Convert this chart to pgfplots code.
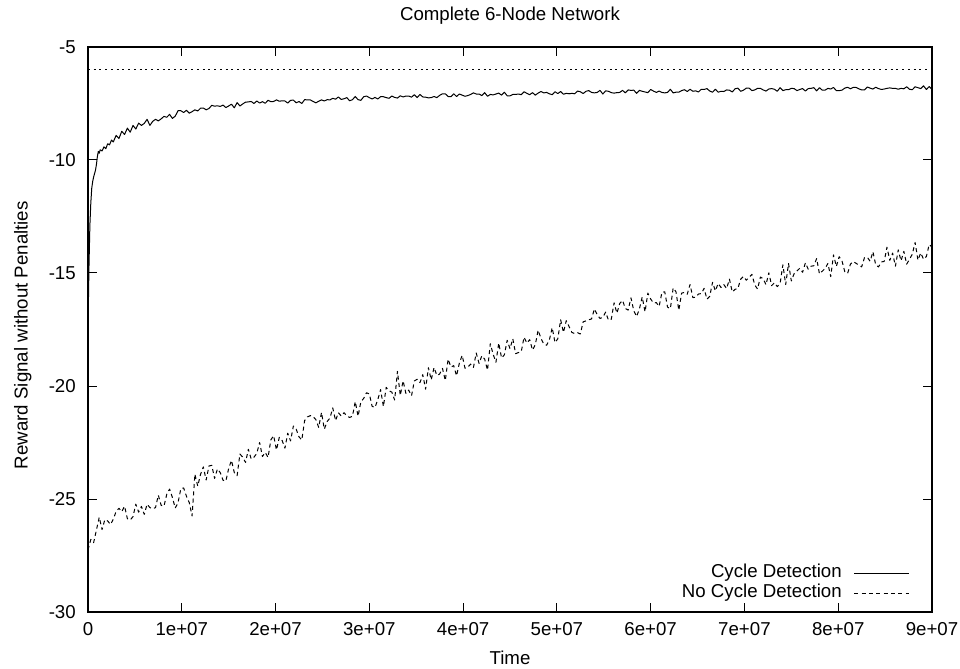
\documentclass[border=0pt]{standalone}
\usepackage{fontspec}
\setmainfont{Liberation Sans}
\usepackage{pgfplots}
\usepackage{pgfplotstable}
\pgfplotsset{compat=1.18}

% time is stored in units of 1e5 steps
\pgfplotstableread{
x y
0 -17.50
1 -14.80
2 -12.90
3 -11.90
4 -11.25
5 -10.95
6 -10.75
7 -10.60
8 -10.45
9 -10.20
10 -9.85
11 -9.62
12 -9.70
13 -9.55
15 -9.60
17 -9.42
19 -9.50
21 -9.28
23 -9.33
25 -9.12
27 -9.20
30 -8.91
33 -9.05
36 -8.73
39 -8.87
42 -8.59
45 -8.77
48 -8.47
51 -8.63
54 -8.37
57 -8.47
60 -8.38
63 -8.20
66 -8.47
69 -8.29
72 -8.20
75 -8.27
78 -8.18
81 -8.07
84 -8.11
87 -7.98
90 -8.16
93 -8.06
96 -7.82
99 -7.82
102 -7.90
105 -7.80
108 -7.93
111 -7.86
114 -7.78
117 -7.83
120 -7.71
123 -7.70
126 -7.78
129 -7.72
132 -7.58
135 -7.62
138 -7.60
141 -7.63
144 -7.57
147 -7.68
150 -7.61
153 -7.53
156 -7.69
159 -7.46
162 -7.61
165 -7.52
168 -7.44
171 -7.43
174 -7.41
177 -7.50
180 -7.39
183 -7.48
186 -7.42
189 -7.49
192 -7.36
195 -7.42
198 -7.41
201 -7.34
204 -7.40
207 -7.38
210 -7.39
213 -7.48
216 -7.36
219 -7.35
222 -7.47
225 -7.41
228 -7.50
231 -7.33
234 -7.34
237 -7.34
240 -7.41
243 -7.47
246 -7.40
249 -7.34
252 -7.39
255 -7.33
258 -7.34
261 -7.27
264 -7.31
267 -7.21
270 -7.32
273 -7.29
276 -7.24
279 -7.38
282 -7.33
285 -7.19
288 -7.33
291 -7.36
294 -7.20
297 -7.17
300 -7.24
303 -7.30
306 -7.23
309 -7.30
312 -7.20
315 -7.20
318 -7.24
321 -7.27
324 -7.17
327 -7.23
330 -7.26
333 -7.16
336 -7.21
339 -7.17
342 -7.17
345 -7.22
348 -7.11
351 -7.24
354 -7.10
357 -7.21
360 -7.22
363 -7.25
366 -7.24
369 -7.19
372 -7.24
375 -7.14
378 -7.07
381 -7.07
384 -7.19
387 -7.20
390 -7.07
393 -7.19
396 -7.08
399 -7.13
402 -7.18
405 -7.15
408 -7.10
411 -7.03
414 -7.08
417 -7.08
420 -7.15
423 -7.02
426 -7.18
429 -7.10
432 -7.12
435 -7.08
438 -7.04
441 -7.13
444 -7.00
447 -7.16
450 -7.16
453 -7.10
456 -7.10
459 -7.08
462 -7.11
465 -6.98
468 -7.05
471 -7.11
474 -7.02
477 -7.13
480 -7.04
483 -6.97
486 -7.03
489 -7.01
492 -7.07
495 -7.11
498 -6.98
501 -7.06
504 -6.97
507 -7.09
510 -7.05
513 -7.07
516 -7.05
519 -7.07
522 -6.95
525 -6.98
528 -7.06
531 -6.96
534 -6.93
537 -7.01
540 -7.03
543 -7.01
546 -6.92
549 -7.08
552 -6.94
555 -6.96
558 -7.02
561 -7.04
564 -7.02
567 -7.01
570 -6.92
573 -7.03
576 -6.90
579 -6.92
582 -6.91
585 -7.05
588 -6.92
591 -6.96
594 -6.99
597 -7.02
600 -6.88
603 -6.95
606 -7.01
609 -6.95
612 -7.01
615 -7.03
618 -7.01
621 -6.87
624 -7.03
627 -7.00
630 -7.00
633 -6.93
636 -6.89
639 -6.97
642 -6.87
645 -6.96
648 -6.94
651 -6.99
654 -6.87
657 -6.88
660 -6.84
663 -6.95
666 -7.00
669 -6.87
672 -7.00
675 -6.96
678 -6.97
681 -6.90
684 -6.91
687 -6.99
690 -6.85
693 -6.82
696 -6.96
699 -6.91
702 -6.82
705 -6.82
708 -6.93
711 -6.90
714 -6.83
717 -6.83
720 -6.90
723 -6.95
726 -6.86
729 -6.84
732 -6.87
735 -6.96
738 -6.80
741 -6.93
744 -6.89
747 -6.89
750 -6.83
753 -6.84
756 -6.93
759 -6.88
762 -6.84
765 -6.95
768 -6.84
771 -6.83
774 -6.80
777 -6.94
780 -6.80
783 -6.91
786 -6.91
789 -6.83
792 -6.86
795 -6.79
798 -6.93
801 -6.93
804 -6.91
807 -6.82
810 -6.78
813 -6.85
816 -6.79
819 -6.79
822 -6.85
825 -6.90
828 -6.90
831 -6.77
834 -6.82
837 -6.86
840 -6.78
843 -6.84
846 -6.88
849 -6.86
852 -6.83
855 -6.81
858 -6.83
861 -6.83
864 -6.87
867 -6.83
870 -6.85
873 -6.76
876 -6.87
879 -6.89
882 -6.76
885 -6.80
888 -6.84
891 -6.72
894 -6.88
897 -6.75
900 -6.88
}\cycledet

\pgfplotstableread{
x y
0 -27.25
3 -26.79
6 -26.93
9 -26.37
12 -25.81
15 -26.35
18 -25.91
21 -25.97
24 -26.13
27 -25.89
30 -25.55
33 -25.41
36 -25.56
39 -25.32
42 -25.87
45 -25.93
48 -25.78
51 -25.23
54 -25.58
57 -25.33
60 -25.68
63 -25.23
66 -25.38
69 -25.43
72 -25.38
75 -24.83
78 -25.28
81 -25.32
84 -24.79
87 -24.56
90 -24.93
93 -25.40
96 -25.17
99 -24.54
102 -24.51
105 -24.88
108 -25.16
111 -25.75
114 -23.90
117 -24.43
120 -23.91
123 -23.58
126 -24.16
129 -23.54
132 -23.51
135 -24.09
138 -23.67
141 -23.83
144 -24.17
147 -24.21
150 -23.65
153 -23.29
156 -23.83
159 -23.97
162 -23.01
165 -23.15
168 -23.38
171 -22.80
174 -23.23
177 -23.15
180 -22.98
183 -22.50
186 -23.12
189 -22.94
192 -23.16
195 -22.38
198 -22.20
201 -22.83
204 -22.27
207 -22.41
210 -22.75
213 -22.09
216 -22.43
219 -21.77
222 -21.91
225 -22.25
228 -22.39
231 -21.53
234 -21.37
237 -21.31
240 -21.35
243 -21.49
246 -21.83
249 -21.17
252 -21.91
255 -21.57
258 -21.42
261 -20.97
264 -21.53
267 -21.18
270 -21.33
273 -21.18
276 -21.33
279 -21.39
282 -21.34
285 -20.69
288 -21.34
291 -20.69
294 -20.55
297 -20.30
300 -20.35
303 -20.90
306 -20.95
309 -20.61
312 -20.16
315 -20.91
318 -20.06
321 -20.21
324 -20.27
327 -20.62
330 -19.35
333 -20.42
336 -19.77
339 -20.33
342 -20.18
345 -20.43
348 -19.78
351 -19.70
354 -19.85
357 -19.50
360 -20.14
363 -19.19
366 -19.73
369 -19.18
372 -19.53
375 -19.47
378 -19.22
381 -19.76
384 -18.81
387 -19.16
390 -19.10
393 -19.55
396 -18.99
399 -18.64
402 -19.21
405 -19.17
408 -19.03
411 -19.18
414 -18.54
417 -19.00
420 -18.66
423 -18.81
426 -19.30
429 -18.13
432 -18.59
435 -18.95
438 -18.10
441 -18.76
444 -18.62
447 -17.98
450 -18.35
453 -17.91
456 -18.57
459 -18.52
462 -18.48
465 -17.84
468 -18.10
471 -17.95
474 -18.41
477 -18.17
480 -17.53
483 -17.89
486 -18.14
489 -18.20
492 -17.96
495 -17.42
498 -18.08
501 -17.91
504 -17.07
507 -17.63
510 -17.11
513 -17.37
516 -17.63
519 -17.68
522 -17.64
525 -17.70
528 -17.16
531 -17.12
534 -17.07
537 -17.03
540 -16.59
543 -16.85
546 -17.01
549 -16.96
552 -16.73
555 -17.09
558 -17.05
561 -16.32
564 -16.78
567 -16.35
570 -16.21
573 -16.57
576 -16.64
579 -16.10
582 -16.67
585 -16.93
588 -16.59
591 -16.06
594 -16.72
597 -15.89
600 -16.15
603 -16.33
606 -16.31
609 -16.48
612 -15.86
615 -15.83
618 -16.51
621 -16.58
624 -15.66
627 -15.83
630 -16.65
633 -15.89
636 -15.86
639 -15.94
642 -15.51
645 -16.09
648 -16.07
651 -15.93
654 -15.91
657 -15.68
660 -16.16
663 -16.03
666 -15.41
669 -15.79
672 -15.46
675 -15.64
678 -15.51
681 -15.69
684 -15.27
687 -15.84
690 -15.72
693 -15.69
696 -15.27
699 -15.15
702 -15.32
705 -15.19
708 -15.06
711 -15.53
714 -15.71
717 -15.18
720 -15.25
723 -15.52
726 -14.99
729 -15.56
732 -15.43
735 -15.60
738 -15.47
741 -14.64
744 -15.51
747 -14.58
750 -15.35
753 -15.03
756 -14.91
759 -14.79
762 -14.97
765 -14.55
768 -14.83
771 -14.70
774 -14.68
777 -14.36
780 -15.04
783 -14.92
786 -14.80
789 -14.58
792 -15.16
795 -14.20
798 -14.71
801 -14.28
804 -14.46
807 -14.94
810 -15.02
813 -14.61
816 -14.49
819 -14.57
822 -14.65
825 -14.73
828 -14.32
831 -14.30
834 -14.48
837 -14.06
840 -14.64
843 -14.73
846 -14.51
849 -14.49
852 -13.86
855 -14.44
858 -14.12
861 -14.70
864 -13.98
867 -14.46
870 -14.04
873 -14.61
876 -14.39
879 -14.17
882 -13.65
885 -14.43
888 -14.11
891 -14.39
894 -14.27
897 -13.74
900 -13.85
}\nocycledet

\begin{document}
\fontsize{14}{16.5}\selectfont
\begin{tikzpicture}
\path[use as bounding box] (-66pt,-42pt) rectangle (654pt,459pt);
\begin{axis}[
  scale only axis,
  width=633pt, height=423.75pt,
  xmin=0, xmax=900, ymin=-30, ymax=-5,
  xtick={0,100,...,900},
  xticklabels={0,1e+07,2e+07,3e+07,4e+07,5e+07,6e+07,7e+07,8e+07,9e+07},
  ytick={-30,-25,-20,-15,-10,-5},
  yticklabels={-30,-25,-20,-15,-10,-5},
  minor tick num=0,
  tick align=inside,
  major tick length=6.75pt,
  axis line style={line width=1pt},
  every tick/.style={black, line width=0.75pt},
  /pgf/number format/assume math mode=true,
  xticklabel style={anchor=base, inner sep=0pt, yshift=-17.25pt},
  yticklabel style={anchor=east, inner sep=0pt, xshift=-9pt},
  title={Complete 6-Node Network},
  title style={at={(axis description cs:0.5,1.033)}, anchor=base, inner sep=0pt},
  xlabel={Time},
  xlabel style={at={(axis description cs:0.5,-0.0925)}, anchor=base, inner sep=0pt},
  ylabel={Reward Signal without Penalties},
  ylabel style={at={(axis description cs:-0.0774,0.490)}, anchor=center, inner sep=0pt},
  legend cell align=right,
  legend plot pos=right,
  legend image code/.code={\draw[#1] (0pt,0pt) -- (41.25pt,0pt);},
  legend style={draw=none, fill=none, at={(axis description cs:1,0)},
    anchor=south east, xshift=-16.5pt, yshift=7.5pt, inner sep=0pt,
    row sep=2pt,
    nodes={inner sep=0pt, text height=10pt, text depth=3pt},
    /tikz/every odd column/.append style={column sep=9pt}},
]
\addplot[black, line width=0.75pt, line join=round] table[x=x, y=y] {\cycledet};
\addlegendentry{Cycle Detection}
\addplot[black, line width=0.75pt, line join=round, dash pattern=on 3pt off 2.5pt] table[x=x, y=y] {\nocycledet};
\addlegendentry{No Cycle Detection}
% upper bound on the achievable reward
\addplot[black, line width=0.75pt, dash pattern=on 1.5pt off 2.8pt, forget plot] coordinates {(0,-6) (900,-6)};
\end{axis}
\end{tikzpicture}
\end{document}
